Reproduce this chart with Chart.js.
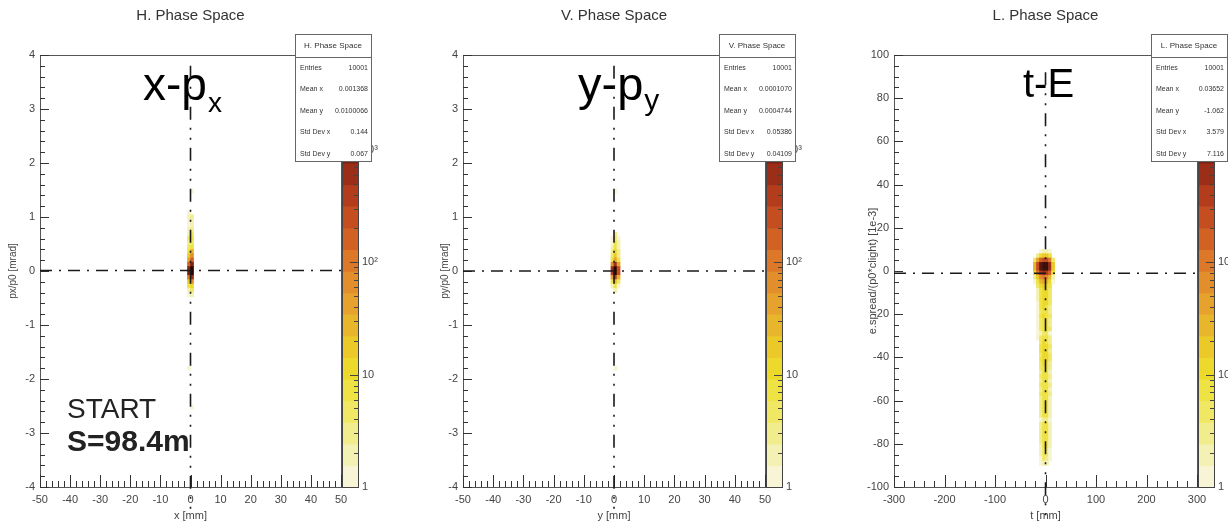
<!DOCTYPE html>
<html>
<head>
<meta charset="utf-8">
<script src="https://cdn.jsdelivr.net/npm/chart.js@4.4.1/dist/chart.umd.min.js"></script>
<style>
  body { margin: 0; background: #fff; width: 1228px; height: 526px; overflow: hidden; position: relative; }
  canvas { position: absolute; top: 0; }
</style>
</head>
<body>
<canvas id="hChart" width="410" height="526" style="left:0"></canvas>
<canvas id="vChart" width="410" height="526" style="left:420px"></canvas>
<canvas id="lChart" width="398" height="526" style="left:830px"></canvas>
<script>
// ---- data ----
const statNames = ['Entries', 'Mean x', 'Mean y', 'Std Dev x', 'Std Dev y'];

// H. Phase Space: x [mm] vs px/p0 [mrad]
const hCols = [-0.5, 0.5];
const hRows = [1.48, 1.08, 1.00, 0.92, 0.84, 0.76, 0.68, 0.60, 0.52, 0.44, 0.36, 0.28, 0.20,
               0.12, 0.04, -0.04, -0.12, -0.20, -0.28, -0.36, -0.44, -1.80, -2.52];
const hCounts = [[0, 1], [1, 0], [2, 3], [1, 2], [1, 2], [2, 3], [2, 4], [4, 7], [3, 5], [5, 9],
                 [8, 25], [15, 60], [40, 150], [180, 800], [900, 3200], [800, 3000], [120, 600],
                 [20, 60], [6, 12], [2, 5], [1, 2], [1, 0], [0, 1]];
const hStats = ['10001', '0.001368', '0.0100066', '0.144', '0.067'];

// V. Phase Space: y [mm] vs py/p0 [mrad]
const vCols = [-0.5, 0.5, 1.5];
const vRows = [1.48, 0.68, 0.60, 0.52, 0.44, 0.36, 0.28, 0.20, 0.12, 0.04, -0.04, -0.12,
               -0.20, -0.28, -0.36, -1.80];
const vCounts = [[0, 1, 0], [0, 3, 0], [1, 5, 1], [1, 7, 2], [2, 9, 2], [3, 12, 3], [4, 18, 3],
                 [8, 40, 6], [60, 500, 40], [500, 3500, 300], [450, 3200, 280], [50, 400, 30],
                 [6, 30, 4], [2, 8, 1], [0, 2, 0], [0, 1, 0]];
const vStats = ['10001', '0.0001070', '0.0004744', '0.05386', '0.04109'];

// L. Phase Space: t [mm] vs e.spread/(p0*clight) [1e-3]
const lCols = [-21, -15, -9, -3, 3, 9, 15];
const lRows = [9, 7, 5, 3, 1, -1, -3, -5, -7, -9, -11, -13, -15, -17, -19, -21, -23, -25, -27,
               -29, -31, -33, -35, -37, -39, -41, -43, -45, -47, -49, -51, -53, -55, -57, -59,
               -61, -63, -65, -67, -69, -71, -73, -75, -77, -79, -81, -83, -85, -87, -89];
const lCounts = [
  [0, 0, 1, 2, 2, 1, 0], [0, 3, 10, 18, 15, 6, 0], [5, 40, 150, 250, 220, 90, 4],
  [30, 300, 1500, 2600, 2200, 700, 20], [25, 280, 1400, 2500, 2000, 650, 18],
  [10, 100, 350, 500, 450, 180, 8], [3, 20, 60, 90, 80, 30, 2], [1, 8, 25, 35, 30, 12, 1],
  [0, 4, 12, 16, 14, 6, 0], [0, 2, 9, 13, 12, 5, 0],
  [0, 2, 8, 12, 11, 5, 0], [0, 2, 7, 11, 10, 4, 0], [0, 1, 7, 11, 10, 4, 0], [0, 1, 6, 10, 9, 3, 0],
  [0, 1, 5, 9, 8, 3, 0], [0, 1, 6, 10, 9, 4, 0], [0, 1, 4, 8, 8, 3, 0], [0, 1, 5, 9, 8, 3, 0],
  [0, 1, 4, 8, 8, 4, 0], [0, 1, 2, 4, 4, 1, 0], [0, 1, 4, 8, 8, 3, 0], [0, 0, 5, 10, 9, 3, 0],
  [0, 0, 6, 12, 11, 4, 0], [0, 0, 6, 12, 11, 3, 0], [0, 0, 5, 11, 10, 4, 0], [0, 0, 6, 12, 12, 4, 0],
  [0, 0, 5, 10, 9, 3, 0], [0, 0, 4, 9, 9, 3, 0], [0, 0, 3, 7, 7, 2, 0], [0, 0, 4, 9, 8, 3, 0],
  [0, 0, 3, 8, 7, 2, 0], [0, 0, 4, 9, 9, 3, 0], [0, 0, 3, 7, 7, 2, 0], [0, 0, 4, 8, 8, 3, 0],
  [0, 0, 3, 6, 6, 2, 0], [0, 0, 3, 8, 7, 2, 0], [0, 0, 3, 7, 6, 2, 0], [0, 0, 3, 6, 6, 2, 0],
  [0, 0, 3, 6, 7, 2, 0], [0, 0, 1, 3, 3, 1, 0], [0, 0, 3, 7, 7, 2, 0], [0, 0, 3, 7, 6, 2, 0],
  [0, 0, 3, 6, 6, 2, 0], [0, 0, 3, 6, 7, 2, 0], [0, 0, 3, 7, 6, 2, 0], [0, 0, 2, 6, 6, 2, 0],
  [0, 0, 2, 5, 4, 1, 0], [0, 0, 2, 4, 4, 1, 0], [0, 0, 1, 4, 3, 1, 0], [0, 0, 1, 2, 2, 0, 0]
];
const lStats = ['10001', '0.03652', '-1.062', '3.579', '7.116'];

// colour palette (bottom -> top of the z scale)
const palette = ['#f7f5d6', '#f4f1b4', '#f2ed8c', '#f0e864', '#eee244', '#ecd92c', '#eac928',
                 '#e8b62a', '#e6a22c', '#e38e2c', '#dc7828', '#d26224', '#c44e20', '#b23c1c',
                 '#9a2e18', '#7a2414', '#5a160c', '#3e0e06', '#260602', '#140200'];
const zMax = 7000;
const FONT = '"Liberation Sans", Arial, sans-serif';

function cellColor(n) {
  const k = Math.floor(Math.log10(n) / (Math.log10(zMax) / palette.length));
  return palette[Math.max(0, Math.min(palette.length - 1, k))];
}

function buildPanel(canvasId, p, cols, rows, counts, stats) {
  const cells = [];
  const colors = [];
  rows.forEach((yc, r) => cols.forEach((xc, c) => {
    const n = counts[r][c];
    if (!n) return;
    cells.push({x: xc, y: [yc - p.binY / 2, yc + p.binY / 2]});
    colors.push(cellColor(n));
  }));
  const meanX = parseFloat(stats[1]);
  const meanY = parseFloat(stats[2]);

  const decor = {
    id: 'decor',
    beforeDatasetsDraw(chart) {
      const {ctx, chartArea: ca} = chart;
      const xs = chart.scales.x, ys = chart.scales.y;
      ctx.save();
      // frame
      ctx.strokeStyle = '#555';
      ctx.lineWidth = 1;
      ctx.strokeRect(ca.left + 0.5, ca.top + 0.5, ca.right - ca.left, ca.bottom - ca.top);
      // ticks pointing inside
      ctx.strokeStyle = '#333';
      ctx.beginPath();
      const nx = Math.round((p.xMax - p.xMin) / p.xMinor);
      for (let i = 0; i <= nx; i++) {
        const v = p.xMin + i * p.xMinor;
        const major = Math.abs(v / p.xStep - Math.round(v / p.xStep)) < 1e-6;
        const px = Math.round(xs.getPixelForValue(v)) + 0.5;
        ctx.moveTo(px, ca.bottom);
        ctx.lineTo(px, ca.bottom - (major ? 12 : 6));
      }
      const ny = Math.round((p.yMax - p.yMin) / p.yMinor);
      for (let i = 0; i <= ny; i++) {
        const v = p.yMin + i * p.yMinor;
        const major = Math.abs(v / p.yStep - Math.round(v / p.yStep)) < 1e-6;
        const py = Math.round(ys.getPixelForValue(v)) + 0.5;
        ctx.moveTo(ca.left, py);
        ctx.lineTo(ca.left + (major ? 9 : 5), py);
      }
      ctx.stroke();
      // big annotation
      ctx.fillStyle = '#000';
      ctx.textBaseline = 'alphabetic';
      ctx.textAlign = 'left';
      ctx.font = p.tag.size + 'px ' + FONT;
      const tx = ca.left + p.tag.dx;
      ctx.fillText(p.tag.main, tx, p.tag.base);
      if (p.tag.sub) {
        const w = ctx.measureText(p.tag.main).width;
        ctx.font = p.tag.subSize + 'px ' + FONT;
        ctx.fillText(p.tag.sub, tx + w + 1, p.tag.base + p.tag.subDrop);
      }
      if (p.note) {
        const cut = xs.getPixelForValue(0);
        ctx.beginPath();
        ctx.rect(0, 0, cut, chart.height);
        ctx.clip();
        ctx.fillStyle = '#222';
        ctx.font = '28px ' + FONT;
        ctx.fillText(p.note[0], ca.left + 27, 418);
        ctx.font = 'bold 30px ' + FONT;
        ctx.fillText(p.note[1], ca.left + 27, 451);
      }
      ctx.restore();
    },
    afterDraw(chart) {
      const {ctx, chartArea: ca} = chart;
      const zs = chart.scales.z;
      ctx.save();
      // title
      ctx.fillStyle = '#333';
      ctx.font = '15px ' + FONT;
      ctx.textAlign = 'center';
      ctx.textBaseline = 'middle';
      ctx.fillText(p.title, (ca.left + ca.right) / 2, 16);
      // colour bar
      const cx = ca.right + 1, cw = 16;
      const step = Math.log10(zMax) / palette.length;
      palette.forEach((col, k) => {
        const y0 = zs.getPixelForValue(Math.pow(10, k * step));
        const y1 = zs.getPixelForValue(Math.pow(10, (k + 1) * step));
        ctx.fillStyle = col;
        ctx.fillRect(cx, y1, cw, y0 - y1 + 0.6);
      });
      ctx.strokeStyle = '#444';
      ctx.lineWidth = 1;
      ctx.strokeRect(cx + 0.5, ca.top + 0.5, cw, ca.bottom - ca.top);
      ctx.beginPath();
      for (let d = 1; d <= zMax; d *= 10) {
        for (let m = 1; m < 10; m++) {
          const v = d * m;
          if (v > zMax) break;
          const py = Math.round(zs.getPixelForValue(v)) + 0.5;
          ctx.moveTo(cx + cw, py);
          ctx.lineTo(cx + cw - (m === 1 ? 8 : 4), py);
        }
      }
      ctx.stroke();
      // stats box
      const bx = Math.round(ca.right) - 46, by = 34, bw = 76, bh = 127;
      ctx.fillStyle = '#fff';
      ctx.fillRect(bx, by, bw, bh);
      ctx.strokeStyle = '#666';
      ctx.strokeRect(bx + 0.5, by + 0.5, bw, bh);
      ctx.beginPath();
      ctx.moveTo(bx, by + 23.5);
      ctx.lineTo(bx + bw, by + 23.5);
      ctx.stroke();
      ctx.fillStyle = '#333';
      ctx.font = '8px ' + FONT;
      ctx.textAlign = 'center';
      ctx.fillText(p.title, bx + bw / 2, by + 12);
      ctx.font = '7px ' + FONT;
      statNames.forEach((name, i) => {
        const y = 68 + i * 21.5;
        ctx.textAlign = 'left';
        ctx.fillText(name, bx + 5, y);
        ctx.textAlign = 'right';
        ctx.fillText(stats[i], bx + bw - 3, y);
      });
      ctx.restore();
    }
  };

  const tickFont = {family: FONT, size: 11};
  const noGrid = {display: false, drawTicks: false};
  new Chart(document.getElementById(canvasId), {
    type: 'bar',
    data: {
      datasets: [
        {
          type: 'line',
          data: [{x: meanX, y: p.vTop}, {x: meanX, y: p.vBottom}],
          borderColor: '#1a1a1a', borderWidth: 1.6, borderDash: [13, 8, 2, 8, 2, 8],
          pointRadius: 0, clip: false, order: 0
        },
        {
          type: 'line',
          data: [{x: p.xMin, y: meanY}, {x: p.xMax, y: meanY}],
          borderColor: '#1a1a1a', borderWidth: 1.6, borderDash: [12, 7, 2, 7],
          pointRadius: 0, clip: false, order: 0
        },
        {
          type: 'bar',
          data: cells,
          backgroundColor: colors,
          barThickness: p.barPx,
          borderWidth: 0,
          order: 1
        }
      ]
    },
    options: {
      responsive: false,
      animation: false,
      events: [],
      layout: {padding: {top: 55}},
      plugins: {legend: {display: false}, tooltip: {enabled: false}, title: {display: false}},
      scales: {
        x: {
          type: 'linear', min: p.xMin, max: p.xMax, offset: false,
          grid: noGrid, border: {display: false},
          ticks: {stepSize: p.xStep, autoSkip: false, maxRotation: 0, padding: 6, color: '#444', font: tickFont},
          title: {display: true, text: p.xTitle, color: '#444', font: {family: FONT, size: 11}, padding: {top: 0, bottom: 3}},
          afterFit: a => { a.height = 39; }
        },
        y: {
          type: 'linear', position: 'left', min: p.yMin, max: p.yMax,
          grid: noGrid, border: {display: false},
          ticks: {stepSize: p.yStep, autoSkip: false, padding: 5, color: '#444', font: tickFont},
          title: {display: true, text: p.yTitle, color: '#444', font: {family: FONT, size: p.yTitleSize}, padding: {top: p.yTitlePad}},
          afterFit: a => { a.width = p.yAxisW; }
        },
        z: {
          type: 'logarithmic', position: 'right', min: 1, max: zMax,
          grid: noGrid, border: {display: false},
          ticks: {
            autoSkip: false, padding: 21, color: '#444', font: tickFont,
            callback: v => {
              const e = Math.log10(v);
              if (Math.abs(e - Math.round(e)) > 1e-9) return '';
              return ['1', '10', '10²', '10³', '10⁴'][Math.round(e)];
            }
          },
          afterFit: a => { a.width = p.zAxisW; }
        }
      }
    },
    plugins: [decor]
  });
}

buildPanel('hChart', {
  title: 'H. Phase Space', xTitle: 'x [mm]', yTitle: 'px/p0 [mrad]', yTitleSize: 10, yTitlePad: 7,
  xMin: -50, xMax: 50, xStep: 10, xMinor: 2, yMin: -4, yMax: 4, yStep: 1, yMinor: 0.2,
  binY: 0.08, barPx: 3.01, yAxisW: 40, zAxisW: 69, vTop: 3.8, vBottom: -4.55,
  tag: {main: 'x-p', sub: 'x', size: 46, subSize: 28, dx: 103, base: 100, subDrop: 12},
  note: ['START', 'S=98.4m']
}, hCols, hRows, hCounts, hStats);

buildPanel('vChart', {
  title: 'V. Phase Space', xTitle: 'y [mm]', yTitle: 'py/p0 [mrad]', yTitleSize: 10, yTitlePad: 19,
  xMin: -50, xMax: 50, xStep: 10, xMinor: 2, yMin: -4, yMax: 4, yStep: 1, yMinor: 0.2,
  binY: 0.08, barPx: 3.02, yAxisW: 43, zAxisW: 65, vTop: 3.8, vBottom: -4.55,
  tag: {main: 'y-p', sub: 'y', size: 47, subSize: 30, dx: 115, base: 100, subDrop: 10}
}, vCols, vRows, vCounts, vStats);

buildPanel('lChart', {
  title: 'L. Phase Space', xTitle: 't [mm]', yTitle: 'e.spread/(p0*clight) [1e-3]', yTitleSize: 11, yTitlePad: 36,
  xMin: -300, xMax: 300, xStep: 100, xMinor: 20, yMin: -100, yMax: 100, yStep: 20, yMinor: 5,
  binY: 2, barPx: 3.03, yAxisW: 64, zAxisW: 31, vTop: 92, vBottom: -115,
  tag: {main: 't-E', size: 40, dx: 129, base: 97}
}, lCols, lRows, lCounts, lStats);
</script>
</body>
</html>
